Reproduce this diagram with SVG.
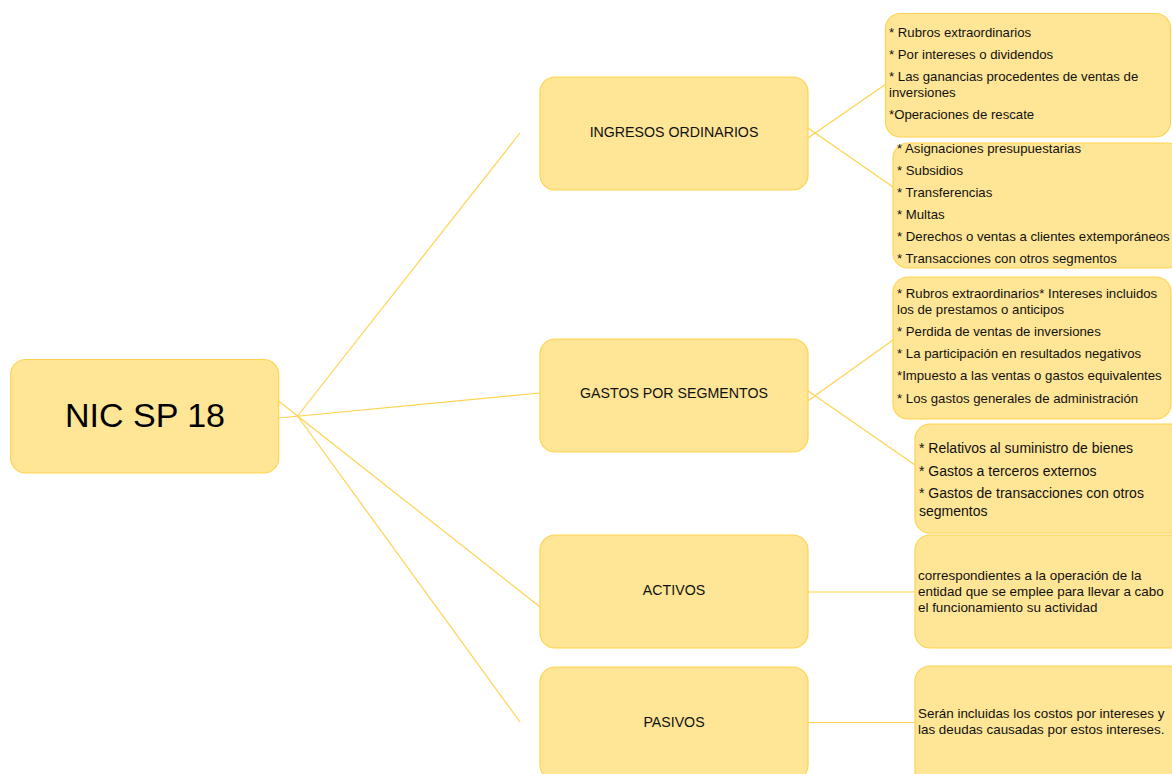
<svg xmlns="http://www.w3.org/2000/svg" width="1172" height="774" viewBox="0 0 1172 774">
<style>
.box{fill:#FFE596;stroke:#FFD34D;stroke-width:1.2}
.ln{stroke:#FFD34D;stroke-width:1.2;fill:none}
.t{font-family:"Liberation Sans",Arial,sans-serif;font-size:13.2px;fill:#111}
.t2{font-family:"Liberation Sans",Arial,sans-serif;font-size:14px;fill:#111}
.t3{font-family:"Liberation Sans",Arial,sans-serif;font-size:13.4px;fill:#111}
.m{font-family:"Liberation Sans",Arial,sans-serif;font-size:14.2px;fill:#111;text-anchor:middle}
.big{font-family:"Liberation Sans",Arial,sans-serif;font-size:34px;fill:#000;text-anchor:middle}
</style>
<rect width="1172" height="774" fill="#fff"/>
<g id="connectors">
<line class="ln" x1="278.6" y1="401" x2="540" y2="607"/>
<line class="ln" x1="278.6" y1="418" x2="540" y2="393"/>
<line class="ln" x1="297.5" y1="416" x2="520" y2="133"/>
<line class="ln" x1="297.5" y1="416" x2="520" y2="722"/>
<line class="ln" x1="808" y1="138" x2="886" y2="84"/>
<line class="ln" x1="808" y1="128" x2="893" y2="187"/>
<line class="ln" x1="808" y1="400.7" x2="893" y2="340"/>
<line class="ln" x1="808" y1="390.7" x2="915" y2="465"/>
<line class="ln" x1="808" y1="592" x2="915" y2="592"/>
<line class="ln" x1="808" y1="722.5" x2="915" y2="722.5"/>
</g>
<g id="nic">
<rect class="box" x="10.7" y="359.5" width="268" height="113.5" rx="15"/>
<text class="big" x="145" y="427">NIC SP 18</text>
</g>
<g id="ingresos">
<rect class="box" x="540" y="77" width="268" height="113" rx="15"/>
<text class="m" x="674" y="137">INGRESOS ORDINARIOS</text>
</g>
<g id="gastos">
<rect class="box" x="540" y="339" width="268" height="113" rx="15"/>
<text class="m" x="674" y="398">GASTOS POR SEGMENTOS</text>
</g>
<g id="activos">
<rect class="box" x="540" y="535" width="268" height="113" rx="15"/>
<text class="m" x="674" y="595">ACTIVOS</text>
</g>
<g id="pasivos">
<rect class="box" x="540" y="667" width="268" height="113" rx="15"/>
<text class="m" x="674" y="727">PASIVOS</text>
</g>
<g id="ingresos-extra">
<rect class="box" x="885.5" y="13.5" width="285" height="123.5" rx="15"/>
<text class="t" x="889" y="37">* Rubros extraordinarios</text>
<text class="t" x="889" y="59">* Por intereses o dividendos</text>
<text class="t" x="889" y="81">* Las ganancias procedentes de ventas de</text>
<text class="t" x="889" y="97">inversiones</text>
<text class="t" x="889" y="119">*Operaciones de rescate</text>
</g>
<g id="ingresos-ord">
<rect class="box" x="893" y="143" width="290" height="125" rx="15"/>
<text class="t" x="897" y="153">* Asignaciones presupuestarias</text>
<text class="t" x="897" y="175">* Subsidios</text>
<text class="t" x="897" y="197">* Transferencias</text>
<text class="t" x="897" y="219">* Multas</text>
<text class="t" x="897" y="241">* Derechos o ventas a clientes extemporáneos</text>
<text class="t" x="897" y="263">* Transacciones con otros segmentos</text>
</g>
<g id="gastos-1">
<rect class="box" x="893" y="277" width="278" height="142" rx="15"/>
<text class="t" x="897" y="298">* Rubros extraordinarios* Intereses incluidos</text>
<text class="t" x="897" y="314">los de prestamos o anticipos</text>
<text class="t" x="897" y="336">* Perdida de ventas  de inversiones</text>
<text class="t" x="897" y="358">* La participación en resultados negativos</text>
<text class="t" x="897" y="380">*Impuesto a las ventas o gastos equivalentes</text>
<text class="t" x="897" y="403">* Los gastos generales de administración</text>
</g>
<g id="gastos-2">
<rect class="box" x="915" y="424" width="270" height="109" rx="15"/>
<text class="t2" x="919" y="453">*  Relativos al suministro de bienes</text>
<text class="t2" x="919" y="476">*  Gastos a terceros externos</text>
<text class="t2" x="919" y="498">*  Gastos de transacciones con otros</text>
<text class="t2" x="919" y="516">segmentos</text>
</g>
<g id="activos-detalle">
<rect class="box" x="915" y="535" width="270" height="113" rx="15"/>
<text class="t3" x="918" y="580">correspondientes a la operación de la</text>
<text class="t3" x="918" y="596">entidad que se emplee para llevar a cabo</text>
<text class="t3" x="918" y="612">el funcionamiento su actividad</text>
</g>
<g id="pasivos-detalle">
<rect class="box" x="915" y="666" width="270" height="120" rx="15"/>
<text class="t3" x="918" y="718">Serán incluidas los costos por intereses y</text>
<text class="t3" x="918" y="734">las deudas causadas por estos intereses.</text>
</g>
</svg>
